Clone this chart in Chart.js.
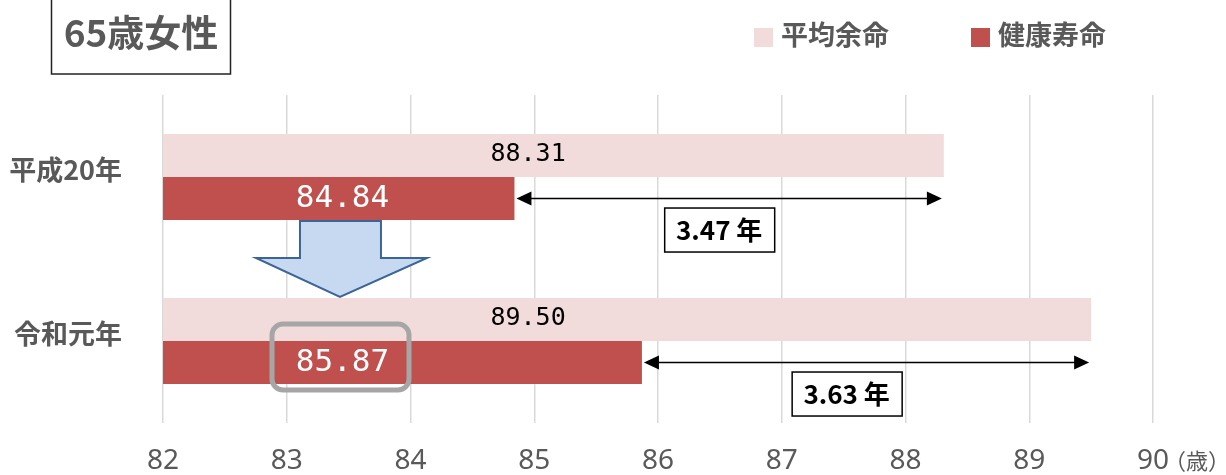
<!DOCTYPE html>
<html>
<head>
<meta charset="utf-8">
<script src="https://cdn.jsdelivr.net/npm/chart.js@4"></script>
<style>
  html, body { margin: 0; padding: 0; background: #fff; }
  #wrap { width: 1226px; height: 475px; }
</style>
</head>
<body>
<div id="wrap"><canvas id="c" width="1226" height="475"></canvas></div>
<script>
// data
const categories = ["平成20年", "令和元年"];
const lifeExpectancy = [88.31, 89.50];   // 平均余命
const healthyLife = [84.84, 85.87];      // 健康寿命
const xTicks = [82, 83, 84, 85, 86, 87, 88, 89, 90];

const PINK = "#F2DCDB";
const RED = "#C0504D";
const GRAY = "#595959";
const JP = "'Noto Sans CJK JP', 'Noto Sans', sans-serif";
const NUM = "'Liberation Sans Narrow', 'Noto Sans', sans-serif";
const MONO = "'DejaVu Sans Mono', 'Liberation Mono', monospace";

/* overlay drawing: title, legend, labels, arrows */
const overlay = {
    id: "overlay",
    afterDraw(chart) {
        const c = chart.ctx;
        const x = chart.scales.x;
        const meta0 = chart.getDatasetMeta(0);
        const meta1 = chart.getDatasetMeta(1);
        c.save();

        // title box
        c.strokeStyle = "#222";
        c.lineWidth = 1.5;
        c.strokeRect(51.5, -2, 179, 76);
        c.fillStyle = GRAY;
        c.font = "bold 37px " + JP;
        c.textAlign = "center";
        c.textBaseline = "middle";
        c.fillText("65歳女性", 141, 33);

        // legend
        c.font = "bold 27px " + JP;
        c.textAlign = "left";
        c.fillStyle = PINK;
        c.fillRect(754, 28, 19, 19);
        c.fillStyle = GRAY;
        c.fillText("平均余命", 781, 35);
        c.fillStyle = RED;
        c.fillRect(971, 28, 19, 19);
        c.fillStyle = GRAY;
        c.fillText("健康寿命", 998, 35);

        // (歳) unit
        c.font = "22px " + JP;
        c.fillText("（歳）", 1164, 461);

        categories.forEach((cat, i) => {
            const pinkBar = meta0.data[i];
            const redBar = meta1.data[i];

            // value labels
            c.textAlign = "center";
            c.fillStyle = "#000";
            c.font = "25px " + MONO;
            c.fillText(lifeExpectancy[i].toFixed(2), x.getPixelForValue(84.95), pinkBar.y - 1);
            c.fillStyle = "#fff";
            c.font = "31px " + MONO;
            c.fillText(healthyLife[i].toFixed(2), x.getPixelForValue(83.45), redBar.y);

            // double arrow between ends
            const x1 = redBar.x + 2;
            const x2 = pinkBar.x - 2;
            const ay = redBar.y;
            c.strokeStyle = "#000";
            c.fillStyle = "#000";
            c.lineWidth = 1.5;
            c.beginPath();
            c.moveTo(x1 + 10, ay);
            c.lineTo(x2 - 10, ay);
            c.stroke();
            c.beginPath();
            c.moveTo(x1, ay);
            c.lineTo(x1 + 15, ay - 7);
            c.lineTo(x1 + 15, ay + 7);
            c.closePath();
            c.fill();
            c.beginPath();
            c.moveTo(x2, ay);
            c.lineTo(x2 - 15, ay - 7);
            c.lineTo(x2 - 15, ay + 7);
            c.closePath();
            c.fill();

            // gap box
            const gap = (lifeExpectancy[i] - healthyLife[i]).toFixed(2) + " 年";
            const bx = x.getPixelForValue(healthyLife[i] + 1.21);
            const by = ay + 9;
            c.fillStyle = "#fff";
            c.fillRect(bx, by, 110, 44);
            c.strokeStyle = "#000";
            c.lineWidth = 1.5;
            c.strokeRect(bx + 0.5, by + 0.5, 110, 44);
            c.fillStyle = "#000";
            c.font = "bold 26px " + JP;
            c.fillText(gap, bx + 55, by + 23);
        });

        // blue down arrow between the years
        const ax = x.getPixelForValue(83.43);
        c.beginPath();
        c.moveTo(ax - 40, 221);
        c.lineTo(ax + 41, 221);
        c.lineTo(ax + 41, 258);
        c.lineTo(ax + 87, 258);
        c.lineTo(ax, 297);
        c.lineTo(ax - 84, 258);
        c.lineTo(ax - 40, 258);
        c.closePath();
        c.fillStyle = "#C6D9F1";
        c.fill();
        c.strokeStyle = "#3B6497";
        c.lineWidth = 2;
        c.stroke();

        // highlight box around latest healthy life value
        c.strokeStyle = "#A6A6A6";
        c.lineWidth = 5;
        c.beginPath();
        c.roundRect(272, 324, 137, 66, 11);
        c.stroke();

        c.restore();
    }
};

new Chart(document.getElementById("c"), {
    type: "bar",
    data: {
        labels: categories,
        datasets: [
            { label: "平均余命", data: lifeExpectancy, backgroundColor: PINK },
            { label: "健康寿命", data: healthyLife, backgroundColor: RED }
        ]
    },
    options: {
        indexAxis: "y",
        responsive: false,
        animation: false,
        layout: { padding: { top: 95, right: 73, left: 0, bottom: 0 } },
        datasets: { bar: { categoryPercentage: 0.525, barPercentage: 1.0 } },
        plugins: {
            legend: { display: false },
            tooltip: { enabled: false }
        },
        scales: {
            x: {
                min: 82,
                max: 90,
                afterBuildTicks(scale) { scale.ticks = xTicks.map(v => ({ value: v })); },
                afterFit(scale) { scale.height = 52; },
                border: { display: false },
                grid: { color: "#D9D9D9", lineWidth: 1.5, drawTicks: false },
                ticks: { color: GRAY, font: { family: NUM, size: 28 }, padding: 21 }
            },
            y: {
                afterFit(scale) { scale.width = 163; },
                border: { display: false },
                grid: { display: false },
                ticks: { color: GRAY, font: { family: JP, size: 27, weight: "bold" }, padding: 33, labelOffset: -7 }
            }
        }
    },
    plugins: [overlay]
});
</script>
</body>
</html>
